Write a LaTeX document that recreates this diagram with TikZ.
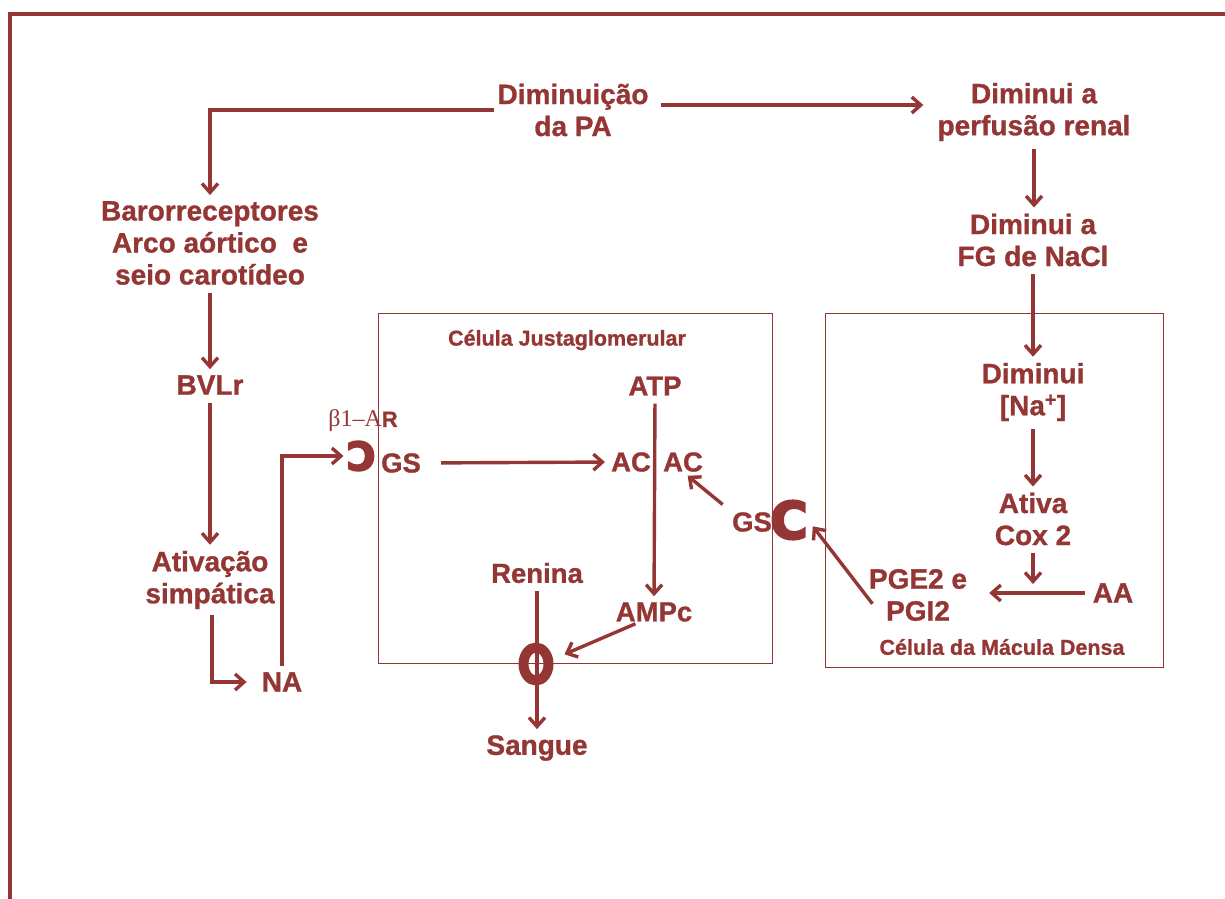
\documentclass[tikz,border=0pt]{standalone}
\usepackage{fontspec}
\usepackage{graphicx}
\setmainfont{Liberation Sans}[BoldFeatures={FakeBold=1}]
\newfontfamily\serifb{Liberation Serif}
\newfontfamily\heavyC[BoldFeatures={FakeBold=5}]{DejaVu Sans}
\usetikzlibrary{arrows.meta,shapes.geometric}
\definecolor{dred}{RGB}{148,54,52}
\begin{document}
\begin{tikzpicture}[x=1pt,y=-1pt,
  lbl/.style={font=\bfseries\fontsize{28}{32}\selectfont, text=dred, align=center, inner sep=0pt},
  inl/.style={font=\bfseries\fontsize{27.5}{31}\selectfont, text=dred, align=center, inner sep=0pt},
  small/.style={font=\bfseries\fontsize{21.5}{25}\selectfont, text=dred, inner sep=0pt},
  rcp/.style={text=dred, inner sep=0pt},
  conn/.style={draw=dred, line width=3.4pt, -{Straight Barb[length=9pt,width=16pt]}, shorten >=6pt, shorten <=8pt},
  cell/.style={draw=dred, line width=1pt}
]
\useasboundingbox (0,0) rectangle (1225,898);
\draw[dred, line width=3.5pt] (10,905) -- (10,14) -- (1232,14);

% cell boxes
\draw[cell] (378,313) rectangle (772,663);
\draw[cell] (825,313) rectangle (1163,667);

% outer labels
\node[lbl] (dim)  at (573,110) {Diminuição\\da PA};
\node[lbl] (perf) at (1034,112) {Diminui a\\perfusão renal};
\node[lbl] (baro) at (210,243) {Barorreceptores\\Arco aórtico~ e\\seio carotídeo};
\node[lbl] (bvlr) at (210,385) {BVLr};
\node[lbl] (ativ) at (210,580) {Ativação\\simpática};
\node[lbl] (na)   at (282,682) {NA};
\node[lbl] (fg)   at (1033,240) {Diminui a\\FG de NaCl};
\node[lbl] (nacl) at (1033,392) {Diminui\\{[}Na\textsuperscript{+}{]}};
\node[lbl] (cox)  at (1033,519) {Ativa\\Cox 2};
\node[lbl] (pge)  at (918,595) {PGE2 e\\PGI2};
\node[lbl] (aa)   at (1113,593) {AA};
\node[lbl] (sang) at (537,748) {Sangue};

% inner labels
\node[inl] (atp)  at (655,386) {ATP};
\node[inl] (acl)  at (631,462) {AC};
\node[inl] (acr)  at (683,462) {AC};
\node[inl] (gsl)  at (401,463) {GS};
\node[inl] (gsr)  at (752,522) {GS};
\node[inl] (ren)  at (537,573) {Renina};
\node[inl] (ampc) at (654,612) {AMPc};
\node[small] (jglab) at (567,340) {Célula Justaglomerular};
\node[small] (mdlab) at (1002,647) {Célula da Mácula Densa};

% receptors
\node[rcp, font=\heavyC\bfseries\fontsize{39}{39}\selectfont] (crev) at (361,456) {\reflectbox{C}};
\node[rcp, font=\heavyC\bfseries\fontsize{51}{51}\selectfont] (cbig) at (789,520) {C};
\node[rcp] (beta) at (363,421) {{\serifb\fontsize{24}{24}\selectfont β1–A}{\bfseries\fontsize{22}{22}\selectfont R}};
\node[draw=dred, line width=10pt, ellipse, minimum width=25pt, minimum height=33pt, inner sep=0pt] (ring) at (536,664) {};
\coordinate (coxend) at (1033,584);

% connectors
\draw[conn, shorten <=3pt] (dim.west) -| (baro.north);
\draw[conn, shorten <=12pt, shorten >=14pt] ([yshift=5pt]dim.east) -- ([yshift=5pt]dim.east -| perf.west);
\draw[conn] (perf.south) -- (perf.south |- fg.north);
\draw[conn] (fg.south) -- (nacl.north);
\draw[conn] (nacl.south) -- (cox.north);
\draw[conn, shorten >=0pt] (cox.south) -- (coxend);
\draw[conn, shorten >=22pt] (aa.west) -- (aa.west -| pge.east);
\draw[conn, shorten <=-6pt, shorten >=8pt] ([yshift=-4pt]pge.west) -- (cbig.east);
\draw[conn, shorten <=12pt] (gsr.north west) -- (acr.south);
\draw[conn] (atp.south) -- (ampc.north);
\draw[conn, shorten <=20pt] (gsl.east) -- (acl.west);
\draw[conn, shorten <=5pt, shorten >=12pt] ([xshift=-14pt]ampc.south) -- ([yshift=5pt]ring.east);
\draw[conn] (ren.south) -- (sang.north);
\draw[conn] (baro.south) -- (bvlr.north);
\draw[conn] (bvlr.south) -- (bvlr.south |- ativ.north);
\draw[conn, shorten <=6pt, shorten >=15pt] ([xshift=2pt]ativ.south) |- (na.west);
\draw[conn, shorten <=6pt, shorten >=3pt] (na.north) |- (crev.west);
\end{tikzpicture}
\end{document}
